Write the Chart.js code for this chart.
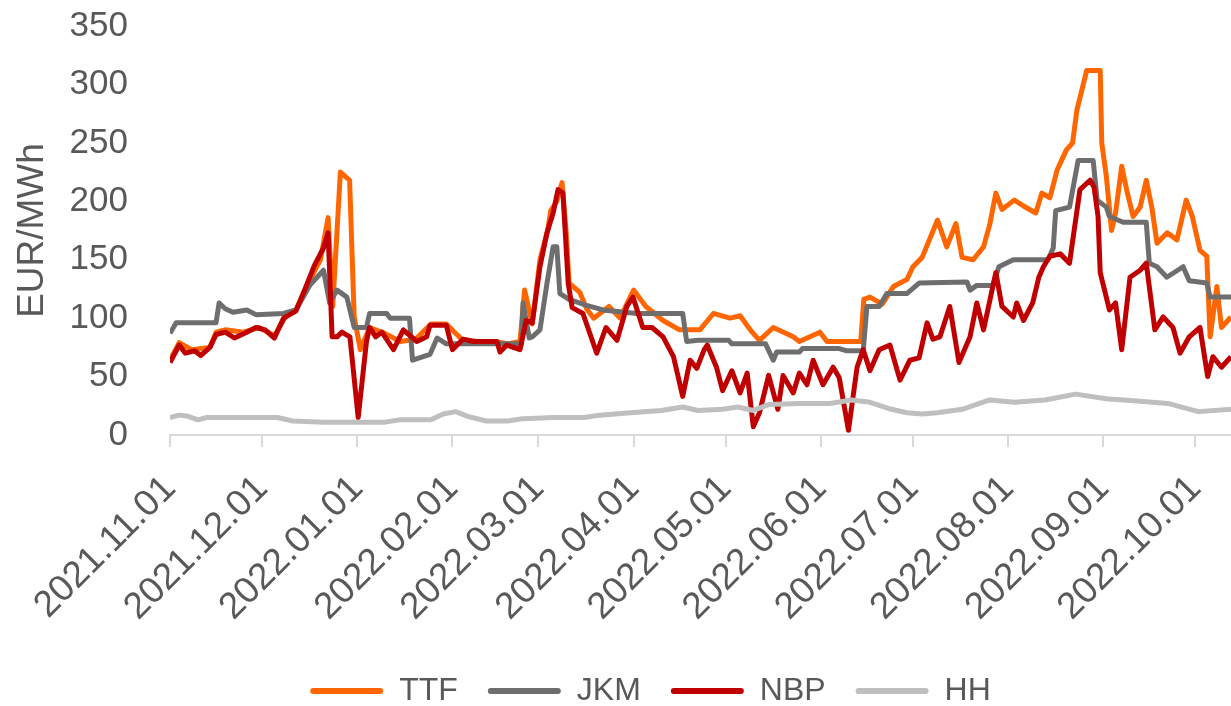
<!DOCTYPE html>
<html>
<head>
<meta charset="utf-8">
<title>TTF JKM NBP HH</title>
<script src="https://cdn.jsdelivr.net/npm/chart.js@4.4.1/dist/chart.umd.min.js"></script>
<style>
  html, body { margin: 0; padding: 0; background: #ffffff; }
  #wrap { width: 1231px; height: 706px; }
</style>
</head>
<body>
<div id="wrap"><canvas id="gasChart" width="1231" height="706"></canvas></div>
<script>
// x = days since 2021.11.01
const monthDays = [0, 30, 61, 92, 120, 151, 181, 212, 242, 273, 304, 334];
const monthLabels = ['2021.11.01', '2021.12.01', '2022.01.01', '2022.02.01', '2022.03.01', '2022.04.01',
                     '2022.05.01', '2022.06.01', '2022.07.01', '2022.08.01', '2022.09.01', '2022.10.01'];
const yTicks = [0, 50, 100, 150, 200, 250, 300, 350];

const ttfDays = [0, 3, 7, 13, 15, 18, 24, 29, 34, 38, 41, 45, 49, 51.5, 53, 55.5, 58.5, 60, 62, 65, 70, 75, 80, 85, 90, 95, 100, 106, 110, 114, 115.5, 118, 120.5, 123, 124, 126, 127.7, 129, 130, 133.5, 135.7, 138, 143, 146.6, 151, 155, 160.6, 166, 172.6, 177, 182.4, 185.7, 189, 192, 196.5, 203, 205, 211.7, 214, 221.5, 225, 226, 228, 232, 235.6, 240, 242, 245, 250, 253, 256, 258, 261.6, 265, 267, 269, 271, 275, 278, 282, 284, 286.6, 289, 292, 294, 295.4, 298.6, 303, 303.5, 305, 306.7, 308, 310, 311.6, 313.7, 316, 318, 319.8, 321.5, 324.8, 328, 331, 333, 335.5, 337.7, 338.8, 341, 342.5, 345.6];
const ttfVals = [64, 79, 73, 75, 88, 90, 88, 92, 85, 103, 107, 130, 150, 186, 110, 225, 218, 101, 73, 92, 87, 80, 82, 95, 95, 82, 80, 80, 78, 80, 124, 95, 150, 175, 192, 200, 216, 175, 130, 122, 108, 100, 110, 100, 124, 110, 98, 90, 90, 104, 100, 102, 90, 81, 92, 84, 80, 88, 80, 80, 80, 116, 118, 112, 127, 133, 144, 152, 184, 161, 181, 152, 150, 161, 180, 207, 193, 201, 196, 190, 207, 203, 227, 244, 250, 278, 312, 312, 250, 221, 175, 190, 230, 210, 187, 195, 218, 195, 164, 173, 167, 201, 187, 158, 153, 84, 127, 92, 101];

const jkmDays = [0, 2, 15, 16, 18, 20.5, 25, 28, 37, 41, 45.5, 50, 52, 54.4, 57.6, 60, 64, 65, 70.6, 71.7, 78, 79, 84.7, 87, 90, 114.5, 115, 117, 118, 120.5, 122.8, 124.8, 126, 127, 130, 135.7, 141, 152, 167, 168.3, 172, 182, 183, 194, 196.5, 197.6, 205, 206, 218, 220.5, 225.8, 227, 231, 233.5, 240, 244, 259.6, 260.6, 262.8, 268, 270, 274.7, 286, 287.7, 288.5, 293, 295.8, 300.7, 302, 305, 306, 310.5, 318, 319, 321.5, 324.7, 330, 332, 337.7, 338.8, 345.6];
const jkmVals = [87, 96, 96, 113, 108, 105, 107, 103, 104, 107, 128, 141, 113, 124, 118, 92, 92, 104, 104, 100, 100, 64, 69, 83, 78, 78, 113, 83, 84, 90, 130, 161, 161, 121, 116, 111, 107, 104, 104, 80, 81, 81, 78, 78, 64, 71, 71, 74, 74, 72, 72, 110, 110, 121, 121, 130, 131, 124, 128, 128, 144, 150, 150, 160, 192, 195, 235, 235, 201, 195, 187, 182, 182, 147, 144, 135, 144, 132, 130, 118, 118];

const nbpDays = [0, 3, 5, 8, 10, 13, 15, 18, 21, 25, 28, 31, 34, 37, 41, 44, 47, 50, 51.5, 52.8, 54.4, 56, 58.6, 61.3, 64, 65, 67, 69, 72.8, 76, 80.4, 83.6, 84.7, 90, 92, 95.4, 98.7, 106.5, 107.5, 109.7, 114, 116, 118, 120.5, 122.8, 124.8, 126.4, 128, 129.7, 131, 134.5, 139, 142, 145.6, 148.8, 150.8, 154, 157, 160.6, 164, 167, 169.4, 171.6, 174, 175, 178, 180, 183, 185.7, 188, 190, 192, 195, 198, 199.7, 203, 205, 207.5, 209.5, 212.7, 216, 218, 221, 223.8, 225.8, 228, 231, 234.5, 237.8, 241, 244, 246.6, 248.5, 250.8, 254, 257, 260.6, 262.8, 265, 269, 271, 274.7, 275.8, 278, 281, 283, 284.5, 286.6, 290, 293, 296.4, 299.7, 301, 302.3, 303, 306, 308, 310, 312.7, 316, 318, 320.8, 323.5, 326.7, 329, 332, 335.5, 338, 339.7, 342.5, 345.6];
const nbpVals = [62, 77, 70, 72, 68, 75, 86, 88, 83, 88, 92, 90, 83, 100, 106, 125, 145, 160, 173, 84, 84, 88, 84, 15, 80, 92, 84, 88, 73, 90, 80, 84, 94, 94, 73, 82, 80, 80, 71, 77, 73, 98, 96, 144, 173, 190, 210, 207, 130, 109, 104, 70, 92, 81, 110, 118, 92, 92, 84, 67, 33, 64, 57, 73, 77, 58, 38, 55, 36, 53, 7, 19, 51, 22, 51, 36, 53, 43, 64, 43, 58, 49, 4, 58, 73, 55, 73, 77, 47, 64, 66, 96, 82, 84, 110, 62, 84, 113, 90, 139, 110, 101, 113, 98, 113, 135, 144, 153, 155, 147, 210, 218, 212, 187, 139, 107, 113, 73, 135, 141, 147, 90, 101, 92, 70, 84, 92, 50, 67, 58, 67];

const hhDays = [0, 3, 6, 9, 12, 20, 35, 40, 50, 60, 70, 75, 85, 89, 93, 97, 103, 110, 115, 125, 135, 140, 150, 160, 167, 172, 180, 185, 190, 195, 205, 215, 222, 228, 235, 240, 245, 250, 258, 267, 275, 285, 295, 305, 315, 325, 335, 345.6];
const hhVals = [15, 17, 16, 13, 15, 15, 15, 12, 11, 11, 11, 13, 13, 18, 20, 16, 12, 12, 14, 15, 15, 17, 19, 21, 24, 21, 22, 24, 21, 26, 27, 27, 30, 28, 22, 19, 18, 19, 22, 30, 28, 30, 35, 31, 29, 27, 20, 22];

const textColor = '#595959';
const fontFamily = "'Liberation Sans', Arial, sans-serif";

function toPoints(days, vals) {
    return days.map((d, i) => ({ x: d, y: vals[i] }));
}

function makeSeries(label, days, vals, color, order) {
    return {
        label: label,
        data: toPoints(days, vals),
        borderColor: color,
        backgroundColor: color,
        borderWidth: 5,
        pointRadius: 0,
        tension: 0,
        borderJoinStyle: 'round',
        order: order
    };
}

// shift the bottom legend a bit, like the Excel original
const legendNudge = {
    id: 'legendNudge',
    beforeLayout(chart) {
        const lg = chart.legend;
        if (lg && !lg._nudged) {
            const fit = lg.fit.bind(lg);
            lg.fit = function () { fit(); this.height -= 11; };
            lg._nudged = true;
        }
    },
    afterLayout(chart) {
        chart.legend.left += 35;
        chart.legend.right += 35;
    }
};

const ctx = document.getElementById('gasChart').getContext('2d');
const gasChart = new Chart(ctx, {
    type: 'line',
    data: {
        datasets: [
            makeSeries('TTF', ttfDays, ttfVals, '#FF6600', 4),
            makeSeries('JKM', jkmDays, jkmVals, '#6E6E6E', 3),
            makeSeries('NBP', nbpDays, nbpVals, '#C00000', 2),
            makeSeries('HH', hhDays, hhVals, '#BFBFBF', 1)
        ]
    },
    options: {
        responsive: false,
        animation: false,
        devicePixelRatio: 1,
        layout: { autoPadding: false, padding: { top: 26, left: 0, right: 0, bottom: 0 } },
        plugins: {
            tooltip: { enabled: false },
            legend: {
                position: 'bottom',
                labels: {
                    boxWidth: 73,
                    boxHeight: 6,
                    padding: 30,
                    color: textColor,
                    font: { family: fontFamily, size: 32 },
                    generateLabels(chart) {
                        return chart.data.datasets.map((ds, i) => ({
                            text: ds.label,
                            fillStyle: ds.borderColor,
                            strokeStyle: ds.borderColor,
                            lineWidth: 0,
                            fontColor: textColor,
                            borderRadius: 3,
                            datasetIndex: i
                        }));
                    },
                    useBorderRadius: true,
                    borderRadius: 3
                }
            }
        },
        scales: {
            x: {
                type: 'linear',
                min: 0,
                max: 345.6,
                afterBuildTicks(axis) {
                    axis.ticks = monthDays.map(v => ({ value: v }));
                },
                afterFit(axis) {
                    axis.height = 210;
                    // plot is cut at the right edge, keep no room for the last label
                    axis.paddingRight = 0;
                    axis.paddingLeft = 0;
                },
                ticks: {
                    autoSkip: false,
                    minRotation: 45,
                    maxRotation: 45,
                    padding: 20,
                    color: textColor,
                    font: { family: fontFamily, size: 37 },
                    callback: (val, idx) => monthLabels[idx]
                },
                grid: {
                    display: true,
                    drawOnChartArea: false,
                    drawTicks: true,
                    tickLength: 12,
                    color: '#D9D9D9',
                    lineWidth: 2
                },
                border: { display: true, color: '#D9D9D9', width: 2 }
            },
            y: {
                min: 0,
                max: 350,
                afterBuildTicks(axis) {
                    axis.ticks = yTicks.map(v => ({ value: v }));
                },
                afterFit(axis) { axis.width = 170; },
                ticks: {
                    padding: 0,
                    color: textColor,
                    font: { family: fontFamily, size: 35 }
                },
                // invisible tick marks make the gap between labels and plot
                grid: {
                    display: true,
                    drawOnChartArea: false,
                    drawTicks: true,
                    tickLength: 42,
                    color: 'rgba(0,0,0,0)'
                },
                border: { display: false },
                title: {
                    display: true,
                    text: 'EUR/MWh',
                    color: textColor,
                    font: { family: fontFamily, size: 37 },
                    padding: { top: 11, bottom: 0 }
                }
            }
        }
    },
    plugins: [legendNudge]
});
</script>
</body>
</html>
